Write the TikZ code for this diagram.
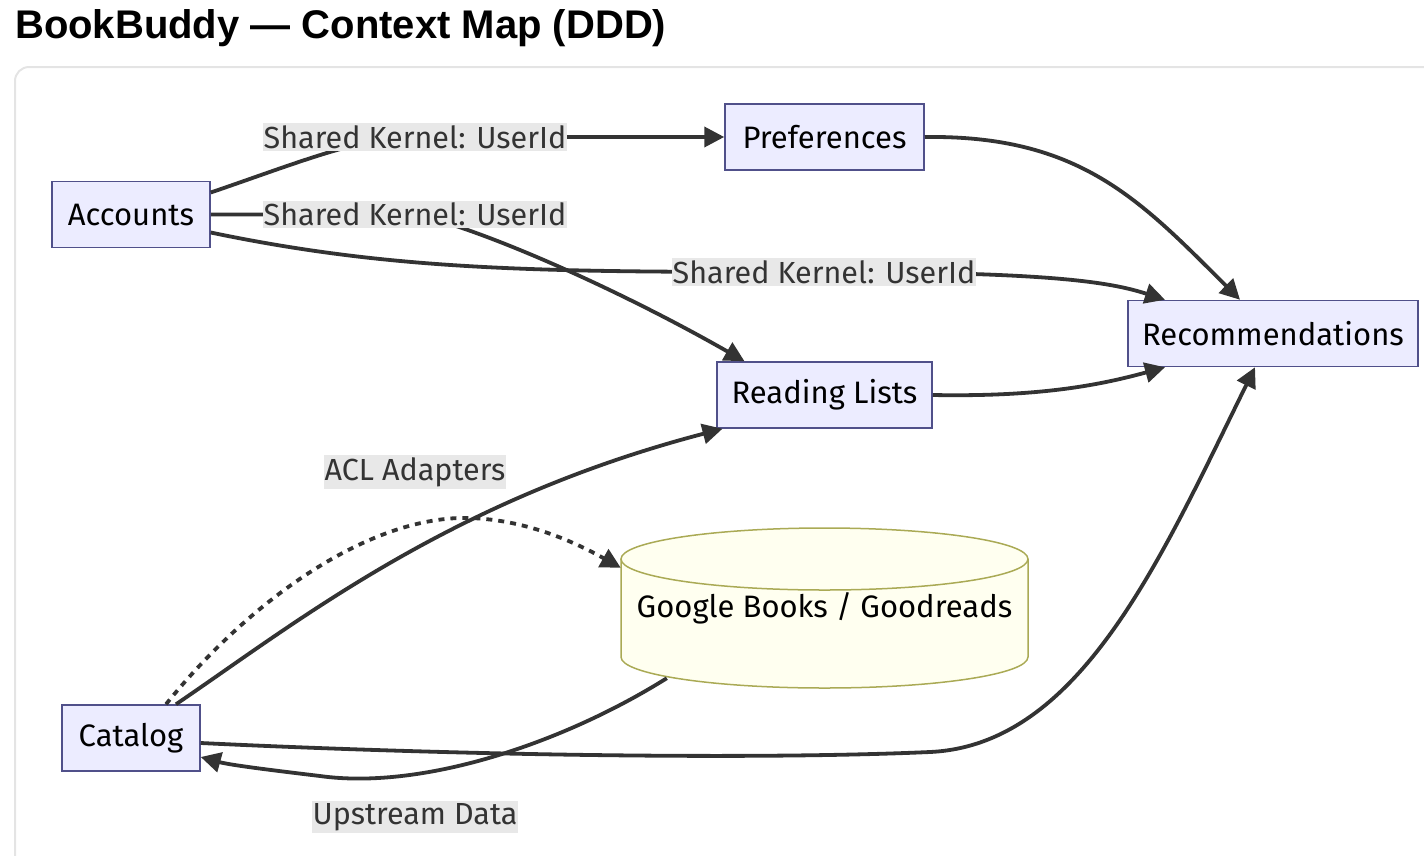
\documentclass[tikz,border=0pt]{standalone}
\usepackage{fontspec}
\setmainfont{Fira Sans}
\newfontfamily\titlefont{Liberation Sans}
\usetikzlibrary{arrows.meta}

\definecolor{ctxfill}{HTML}{ECECFF}
\definecolor{ctxline}{HTML}{50508A}
\definecolor{extfill}{HTML}{FFFFF0}
\definecolor{extline}{HTML}{AAAA55}
\definecolor{linkc}{HTML}{333333}
\definecolor{lblfill}{HTML}{E8E8E8}
\definecolor{framec}{HTML}{E4E4E4}

\begin{document}
\begin{tikzpicture}[x=1pt,y=-1pt,
                ctx/.style={draw=ctxline, fill=ctxfill, line width=1.5pt, minimum height=66pt, inner sep=0pt, font=\fontsize{31}{36}\selectfont},
                link/.style={draw=linkc, line width=3.8pt, -{Triangle[length=20pt,width=20pt]}},
                acl/.style={link, dash pattern=on 6pt off 6pt},
                lbl/.style={fill=lblfill, text=linkc, inner xsep=1pt, inner ysep=2pt, font=\fontsize{30.5}{36}\selectfont}]
                \useasboundingbox (0,0) rectangle (1424,855);
                \draw[framec, line width=2pt, rounded corners=14pt] (15,67) rectangle (1460,890);
                \node[anchor=west, inner sep=0pt, font=\titlefont\bfseries\fontsize{40}{46}\selectfont] (title) at (15,28) {BookBuddy — Context Map (DDD)};

                \node[ctx, minimum width=158pt] (acc) at (131,214.5) {Accounts};
                \node[ctx, minimum width=199pt] (pref) at (824.5,137) {Preferences};
                \node[ctx, minimum width=215pt] (rl) at (824.5,395) {Reading Lists};
                \node[ctx, minimum width=290pt] (rec) at (1273,333.5) {Recommendations};
                \node[ctx, minimum width=138pt] (cat) at (131,738) {Catalog};

                \fill[extfill] (621,559) -- (621,657) arc[start angle=180, end angle=360, x radius=203.5pt, y radius=31pt] -- (1028,559) -- cycle;
                \fill[extfill] (824.5,657) ellipse [x radius=203.5pt, y radius=31pt];
                \draw[extline, line width=1.5pt] (621,559) -- (621,657) arc[start angle=180, end angle=360, x radius=203.5pt, y radius=31pt] -- (1028,559);
                \filldraw[fill=extfill, draw=extline, line width=1.5pt] (824.5,559) ellipse [x radius=203.5pt, y radius=31pt];
                \node[minimum width=407pt, minimum height=160pt, inner sep=0pt, font=\fontsize{31}{36}\selectfont] (gb) at (824.5,608) {Google Books / Goodreads};

                \coordinate (k1) at (415,137);
                \coordinate (k2) at (415,214.5);
                \coordinate (k3) at (824,272);

                \draw[link] ([yshift=22pt]acc.east) .. controls (300,162) and (360,137) .. (k1) -- (pref.west);
                \draw[link] (acc.east) -- (k2) .. controls (480,228) and (620,290) .. ([xshift=-80pt]rl.north);
                \draw[link] ([yshift=-18pt]acc.east) .. controls (400,272) and (550,272) .. (k3) .. controls (1050,272) and (1110,282) .. ([xshift=-108pt]rec.north);
                \draw[link] (pref.east) .. controls (1080,135) and (1140,200) .. ([xshift=-33pt]rec.north);
                \draw[link] (rl.east) .. controls (1040,397) and (1100,385) .. ([xshift=-108pt]rec.south);
                \draw[link] ([xshift=45pt]cat.north) .. controls (300,620) and (450,500) .. ([xshift=-102pt]rl.south);
                \draw[acl] ([xshift=35pt]cat.north) .. controls (250,600) and (370,515) .. (470,518) .. controls (530,520) and (580,545) .. ([yshift=-40pt]gb.north west);
                \draw[link] ([xshift=46pt,yshift=10pt]gb.south west) .. controls (560,745) and (420,790) .. (320,776) .. controls (270,770) and (230,765) .. ([yshift=-19pt]cat.east);
                \draw[link] ([yshift=-5pt]cat.east) .. controls (450,755) and (750,760) .. (930,752) .. controls (1080,745) and (1160,560) .. ([xshift=-18pt]rec.south);

                \node[lbl] (k1l) at (k1) {Shared Kernel: UserId};
                \node[lbl] (k2l) at (k2) {Shared Kernel: UserId};
                \node[lbl] (k3l) at (k3) {Shared Kernel: UserId};
                \node[lbl] (acll) at (415,472) {ACL Adapters};
                \node[lbl] (upl) at (415,817) {Upstream Data};
            \end{tikzpicture}
\end{document}
